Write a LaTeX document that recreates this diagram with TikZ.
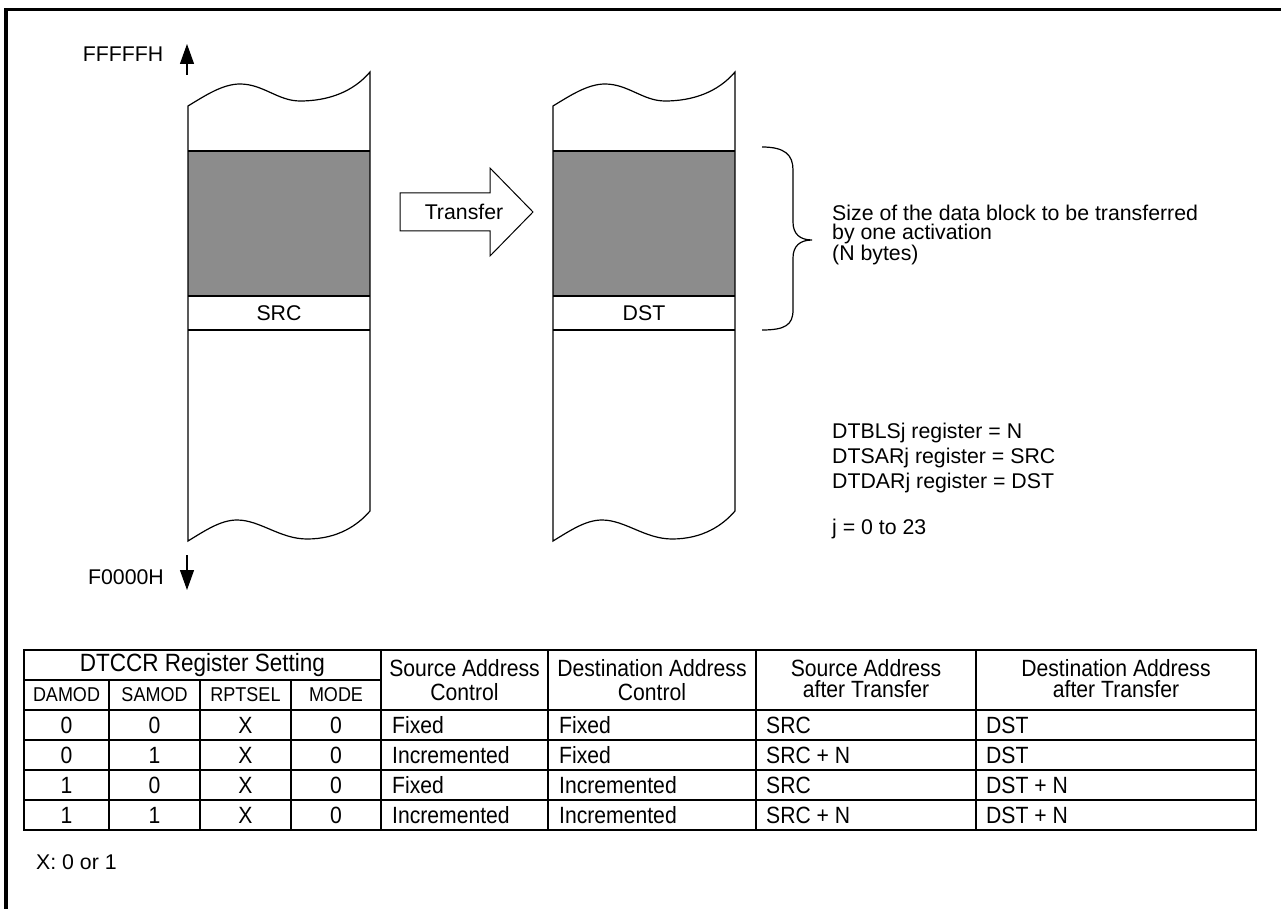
\documentclass[tikz,border=0pt]{standalone}
\usepackage{fontspec}
\setmainfont{Liberation Sans}
\newfontfamily\tabfont[FakeStretch=0.9]{Liberation Sans}
\usetikzlibrary{arrows.meta}

\tikzset{
  mem/.style={line width=1.2pt},
  block/.style={fill=black!45},
  lbl/.style={font=\fontsize{21.3}{19.5}\selectfont, inner sep=0pt},
  note/.style={lbl, anchor=west, align=left},
  addr/.style={-{Triangle[length=20pt,width=14pt]}, line width=1.2pt},
  grid/.style={line width=1.3pt},
  cell/.style={font=\tabfont\fontsize{23.5}{24}\selectfont, inner sep=0pt},
  subcell/.style={font=\tabfont\fontsize{20}{20}\selectfont, inner sep=0pt},
}

\begin{document}
\begin{tikzpicture}[x=1pt,y=-1pt]
  \useasboundingbox (0,0) rectangle (1281,909);
  \draw[line width=3.5pt] (6,909) -- (6,9.5) -- (1281,9.5);

  % memory columns
  \foreach \col/\xl/\txt in {src/188/SRC, dst/553/DST} {
    \fill[block] (\xl,151) rectangle (\xl+182,296);
    \draw[mem] (\xl,151) -- (\xl+182,151);
    \draw[mem] (\xl,296) -- (\xl+182,296);
    \draw[mem] (\xl,330) -- (\xl+182,330);
    \draw[mem] (\xl,106)
      .. controls (\xl+18,95) and (\xl+35,84) .. (\xl+52,84)
      .. controls (\xl+75,84) and (\xl+90,101) .. (\xl+112,101)
      .. controls (\xl+140,101) and (\xl+165,92) .. (\xl+182,72)
      -- (\xl+182,511)
      .. controls (\xl+170,525) and (\xl+150,539) .. (\xl+119,539)
      .. controls (\xl+92,539) and (\xl+72,520) .. (\xl+49,520)
      .. controls (\xl+33,520) and (\xl+18,530) .. (\xl,541)
      -- cycle;
    \node[lbl] (\col-lbl) at (\xl+91,313) {\txt};
  }

  % address direction
  \coordinate (hi-tail) at (187,75);
  \coordinate (hi-tip) at (187,44);
  \draw[addr] (hi-tail) -- (hi-tip);
  \node[lbl] (hi) at (123,54) {FFFFFH};
  \coordinate (lo-tail) at (187,555);
  \coordinate (lo-tip) at (187,590);
  \draw[addr] (lo-tail) -- (lo-tip);
  \node[lbl] (lo) at (126,577) {F0000H};

  % transfer arrow
  \draw[line width=1pt] (400,193) -- (490,193) -- (490,168) -- (533,212)
    -- (490,256) -- (490,231) -- (400,231) -- cycle;
  \node[lbl] (xfer) at (464,212) {Transfer};

  % brace and notes
  \draw[mem] (762,147) .. controls (785,147) and (793,155) .. (793,170)
    -- (793,222) .. controls (793,234) and (800,240) .. (812,240)
    .. controls (800,240) and (793,246) .. (793,258)
    -- (793,310) .. controls (793,325) and (785,330) .. (762,330);
  \node[note] (size) at (832,235)
    {Size of the data block to be transferred\\by one activation\\(N bytes)};
  \node[note, font=\fontsize{21.3}{25}\selectfont] (regs) at (832,458)
    {DTBLSj register = N\\DTSARj register = SRC\\DTDARj register = DST};
  \node[note] (jrange) at (832,529) {j = 0 to 23};

  % table
  \draw[grid] (24,650) rectangle (1256,830);
  \draw[grid] (24,680) -- (381,680);
  \foreach \y in {710,740,770,800}
    \draw[grid] (24,\y) -- (1256,\y);
  \foreach \x in {381,548,756,976}
    \draw[grid] (\x,650) -- (\x,830);
  \foreach \x in {109,200,291}
    \draw[grid] (\x,680) -- (\x,830);

  \node[cell, font=\tabfont\fontsize{25}{25}\selectfont] (dtccr) at (202.5,665)
    {DTCCR Register Setting};
  \foreach \x/\t in {66.5/DAMOD, 154.5/SAMOD, 245.5/RPTSEL, 336/MODE}
    \node[subcell] (\t) at (\x,695) {\t};
  \node[cell, align=center] (sactl) at (464.5,680) {Source Address\\Control};
  \node[cell, align=center] (dactl) at (652,680) {Destination Address\\Control};
  \node[cell, align=center, font=\tabfont\fontsize{23.5}{21}\selectfont]
    (safter) at (866,679) {Source Address\\after Transfer};
  \node[cell, align=center, font=\tabfont\fontsize{23.5}{21}\selectfont]
    (dafter) at (1116,679) {Destination Address\\after Transfer};

  \foreach \r/\a/\b/\c/\d/\e/\f/\g/\h in {
      1/0/0/X/0/Fixed/Fixed/SRC/DST,
      2/0/1/X/0/Incremented/Fixed/SRC + N/DST,
      3/1/0/X/0/Fixed/Incremented/SRC/DST + N,
      4/1/1/X/0/Incremented/Incremented/SRC + N/DST + N} {
    \node[cell] (r\r-damod) at (66.5,695+30*\r) {\a};
    \node[cell] (r\r-samod) at (154.5,695+30*\r) {\b};
    \node[cell] (r\r-rpt) at (245.5,695+30*\r) {\c};
    \node[cell] (r\r-mode) at (336,695+30*\r) {\d};
    \node[cell, anchor=west] (r\r-sa) at (392,695+30*\r) {\e};
    \node[cell, anchor=west] (r\r-da) at (559,695+30*\r) {\f};
    \node[cell, anchor=west] (r\r-sn) at (766,695+30*\r) {\g};
    \node[cell, anchor=west] (r\r-dn) at (986,695+30*\r) {\h};
  }
  \node[note] (xnote) at (36,862) {X: 0 or 1};
\end{tikzpicture}
\end{document}
